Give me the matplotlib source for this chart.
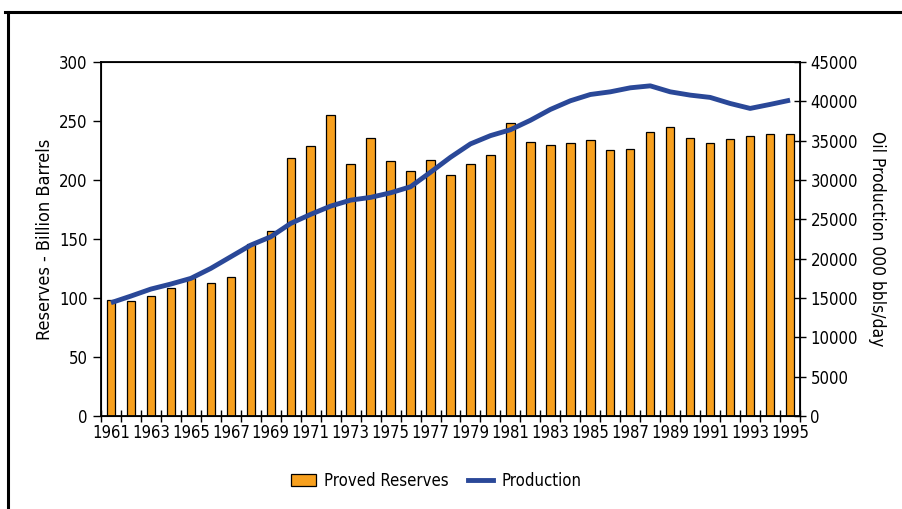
import matplotlib.pyplot as plt
from matplotlib.lines import Line2D
from matplotlib.patches import Patch
from matplotlib.ticker import FixedLocator, NullFormatter

plt.rcParams["font.family"] = ["DejaVu Sans"]
plt.rcParams["font.stretch"] = "condensed"

years = list(range(1961, 1996))
reserves = [98.3, 97.2, 102, 108.5, 116.7, 112.4, 118, 145.5, 156.8, 218.9,
            229, 255.4, 213.3, 235.6, 215.8, 207.9, 217, 204.2, 213.8, 220.9,
            248.6, 232.2, 229.7, 231.1, 233.6, 225.7, 226, 240.7, 244.9, 235.3,
            231.6, 235, 237, 239.2, 239]
production = [14400, 15250, 16140, 16780, 17500, 18770, 20250, 21730, 22790, 24490,
              25640, 26690, 27450, 27800, 28380, 29150, 31000, 32900, 34600, 35650,
              36400, 37600, 38980, 40080, 40880, 41220, 41730, 41980, 41220, 40800,
              40510, 39740, 39110, 39620, 40160]

ORANGE = "#F7A01E"
BLUE = "#2A4898"
FS = 12

fig = plt.figure(figsize=(9.03, 5.09), dpi=100)
ax = fig.add_axes([0.1118, 0.1827, 0.7742, 0.6953])
x = list(range(len(years)))
ax.bar(x, reserves, width=0.42, color=ORANGE, edgecolor="black", linewidth=0.9, zorder=2)
ax.set_xlim(-0.5, len(years) - 0.5)
ax.set_ylim(0, 300)
ax.set_yticks(range(0, 301, 50))
ax.set_xticks(x[::2])
ax.set_xticklabels([str(y) for y in years[::2]])
ax.xaxis.set_minor_locator(FixedLocator([i + 0.5 for i in range(-1, len(years))]))
ax.xaxis.set_minor_formatter(NullFormatter())
ax.tick_params(axis="x", which="major", length=0, labelsize=FS, pad=6)
ax.tick_params(axis="x", which="minor", direction="inout", length=8, width=1)
ax.tick_params(axis="y", direction="out", length=6, width=1, labelsize=FS)
for s in ax.spines.values():
    s.set_linewidth(1.3)
ax.set_ylabel("Reserves - Billion Barrels", fontsize=13, labelpad=4)

ax2 = ax.twinx()
ax2.plot(x, production, color=BLUE, lw=3.5, solid_capstyle="butt", zorder=3)
ax2.set_ylim(0, 45000)
ax2.set_yticks(range(0, 45001, 5000))
ax2.tick_params(axis="y", direction="inout", length=8, width=1, labelsize=FS)
ax2.set_ylabel("Oil Production 000 bbls/day", fontsize=12.5, rotation=-90, labelpad=20)

handles = [Patch(facecolor=ORANGE, edgecolor="black", linewidth=0.9),
           Line2D([0], [0], color=BLUE, lw=3.5)]
fig.legend(handles, ["Proved Reserves", "Production"], loc="center",
           bbox_to_anchor=(0.483, 0.055), ncol=2, frameon=False, fontsize=FS,
           handlelength=1.5, handletextpad=0.5, columnspacing=1.2)

# outer frame (left and top edges only visible)
fig.add_artist(Line2D([0.009, 0.009], [0.0, 0.977], color="black", lw=2.2, transform=fig.transFigure))
fig.add_artist(Line2D([0.006, 1.0], [0.977, 0.977], color="black", lw=2.2, transform=fig.transFigure))

fig.savefig("out.png", dpi=100)
